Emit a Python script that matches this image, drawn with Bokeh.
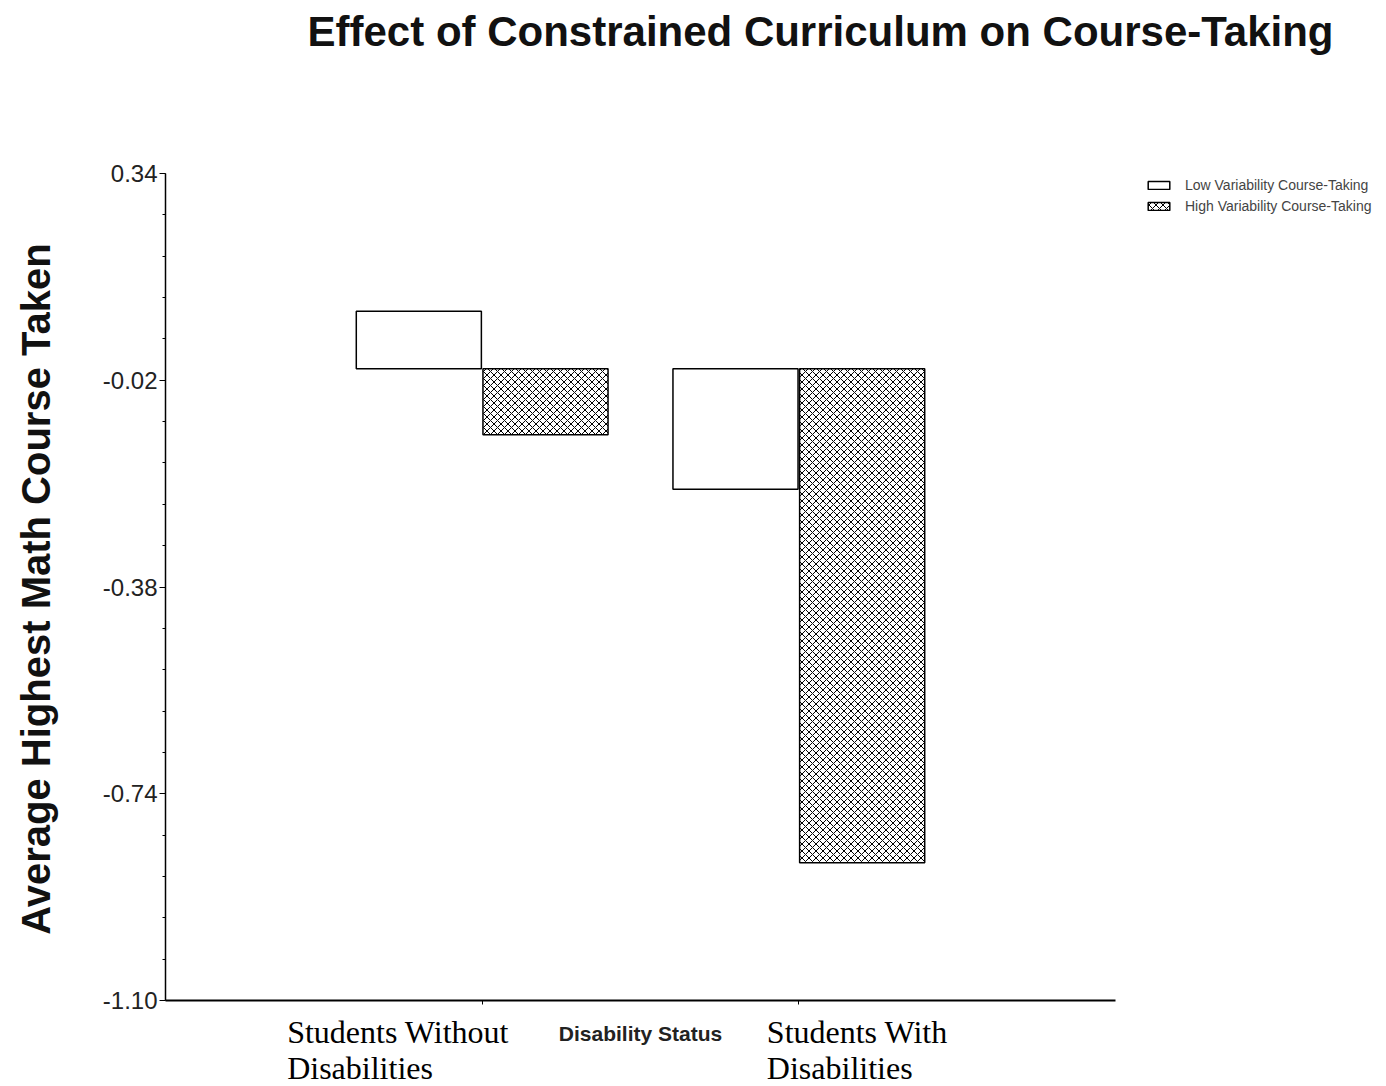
import math
from bokeh.plotting import figure
from bokeh.models import (Range1d, FixedTicker, Label, Legend, LegendItem,
                          ColumnDataSource, PrintfTickFormatter, CustomJSTickFormatter)
from bokeh.embed import file_html
from bokeh.resources import INLINE
import numpy as np

# ---- data ----
groups = ["Students Without\nDisabilities", "Students With\nDisabilities"]
group_pos = [1, 2]
series = ["Low Variability Course-Taking", "High Variability Course-Taking"]
low_values = [0.10, -0.21]
high_values = [-0.115, -0.86]
y_ticks = [0.34, -0.02, -0.38, -0.74, -1.10]
title = "Effect of Constrained Curriculum on Course-Taking"
y_label = "Average Highest Math Course Taken"
x_label = "Disability Status"

# ---- layout params (pixels) ----
W, H = 1380, 1084
AX_L, AX_R = 165, 1115      # x axis extent
AX_T, AX_B = 173, 1000      # y axis extent
n_slots = 3
y_lo, y_hi = min(y_ticks), max(y_ticks)
ppx = (AX_R - AX_L) / n_slots
ppy = (AX_B - AX_T) / (y_hi - y_lo)
bar_w = 0.395
offset = 0.2

# the frame covers the whole canvas; axes sit at fixed locations inside it
p = figure(width=W, height=H, output_backend="svg", toolbar_location=None,
           x_range=Range1d(-AX_L / ppx, n_slots + (W - AX_R) / ppx),
           y_range=Range1d(y_lo - (H - AX_B) / ppy, y_hi + AX_T / ppy),
           min_border=0, min_border_left=0, min_border_right=0,
           min_border_top=0, min_border_bottom=0)
p.outline_line_color = None
p.xgrid.visible = False
p.ygrid.visible = False
p.background_fill_color = "white"
p.border_fill_color = "white"

src_low = ColumnDataSource(dict(x=[g - offset for g in group_pos], top=low_values))
src_high = ColumnDataSource(dict(x=[g + offset for g in group_pos], top=high_values))

r_low = p.vbar(x="x", top="top", bottom=0, width=bar_w, source=src_low,
               fill_color="white", line_color="black", line_width=1.5)
r_high = p.vbar(x="x", top="top", bottom=0, width=bar_w, source=src_high,
                fill_color="white", line_color="black", line_width=1.5,
                hatch_pattern="diagonal_cross", hatch_color="black",
                hatch_scale=7, hatch_weight=1)

# y axis
ya = p.yaxis[0]
minor = [round(v, 3) for v in np.arange(y_lo, y_hi + 0.001, 0.072)]
ya.ticker = FixedTicker(ticks=y_ticks, minor_ticks=minor)
ya.formatter = PrintfTickFormatter(format="%.2f")
ya.fixed_location = 0
ya.bounds = (y_lo, y_hi)
ya.major_label_text_font = "Liberation Sans"
ya.major_label_text_font_size = "24px"
ya.major_label_text_color = "#222222"
ya.major_label_standoff = 2
ya.major_tick_out = 6
ya.major_tick_in = 0
ya.minor_tick_out = 3
ya.minor_tick_in = 0
ya.axis_line_width = 1.5
ya.axis_line_color = "black"
ya.major_tick_line_color = "black"
ya.minor_tick_line_color = "black"

# x axis
xa = p.xaxis[0]
xa.ticker = FixedTicker(ticks=group_pos, minor_ticks=[])
xa.formatter = CustomJSTickFormatter(code="return ''")
xa.fixed_location = y_lo
xa.bounds = (0, n_slots)
xa.major_tick_out = 4
xa.major_tick_in = 0
xa.axis_line_width = 2
xa.axis_line_color = "black"
xa.major_tick_line_color = "black"

# axis titles
p.add_layout(Label(x=35, y=H - (AX_T + AX_B) / 2 - 2, x_units="screen", y_units="screen",
                   text=y_label, angle=math.pi / 2,
                   text_font="Liberation Sans", text_font_style="bold",
                   text_font_size="40px", text_color="#111111",
                   text_align="center", text_baseline="alphabetic"))
p.add_layout(Label(x=(AX_L + AX_R) / 2, y=H - 1033, x_units="screen", y_units="screen",
                   text=x_label, text_font="Liberation Sans", text_font_style="bold",
                   text_font_size="21px", text_color="#222222",
                   text_align="center", text_baseline="alphabetic"))

# category labels (left aligned, as in the reference)
cat_offsets = [-195, -32]
for g, txt, xo in zip(group_pos, groups, cat_offsets):
    p.add_layout(Label(x=g, y=H - 1013, x_units="data", y_units="screen", x_offset=xo,
                       text=txt, text_font="Liberation Serif", text_font_size="32px",
                       text_color="black", text_align="left", text_baseline="top",
                       text_line_height=1.0))

# title
p.add_layout(Label(x=820, y=H - 31, x_units="screen", y_units="screen",
                   text=title, text_font="Liberation Sans", text_font_style="bold",
                   text_font_size="42px", text_color="#111111",
                   text_align="center", text_baseline="alphabetic"))

# legend
legend = Legend(items=[LegendItem(label=series[0], renderers=[r_low]),
                       LegendItem(label=series[1], renderers=[r_high])],
                location=(1145, H - 214.5), orientation="vertical",
                background_fill_alpha=0, border_line_color=None,
                padding=0, margin=0, glyph_width=27, glyph_height=10,
                label_text_font="Liberation Sans", label_text_font_size="14px",
                label_text_color="#444444", label_standoff=13, spacing=4,
                label_height=17)
p.add_layout(legend, "center")

open("out.html", "w").write(file_html(p, INLINE))
